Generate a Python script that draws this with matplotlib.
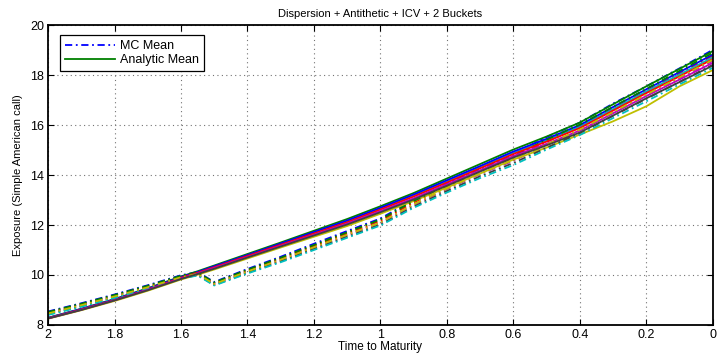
import matplotlib
matplotlib.use('Agg')
import matplotlib.pyplot as plt

plt.rcParams['font.family'] = ['Liberation Sans', 'DejaVu Sans']

# time to maturity grid (years)
t = [2.0, 1.9, 1.8, 1.7, 1.6, 1.55, 1.5, 1.4, 1.3, 1.2, 1.1, 1.0,
     0.9, 0.8, 0.7, 0.6, 0.5, 0.4, 0.3, 0.2, 0.1, 0.0]

# MC mean exposure per run (dash-dot lines)
mc_blue = [8.54, 8.87, 9.22, 9.59, 9.99, 10.12, 9.72, 10.24, 10.73, 11.25, 11.76, 12.26,
           13.01, 13.66, 14.28, 14.84, 15.52, 16.10, 16.86, 17.55, 18.27, 19.01]
mc_red = [8.49, 8.82, 9.17, 9.54, 9.94, 10.07, 9.67, 10.18, 10.66, 11.16, 11.66, 12.17,
          12.90, 13.54, 14.15, 14.69, 15.33, 15.93, 16.64, 17.35, 18.06, 18.77]
mc_magenta = [8.45, 8.78, 9.13, 9.50, 9.90, 10.03, 9.63, 10.13, 10.60, 11.09, 11.59, 12.09,
              12.81, 13.44, 14.04, 14.57, 15.20, 15.79, 16.49, 17.18, 17.88, 18.57]
mc_gray = [8.42, 8.75, 9.10, 9.47, 9.87, 10.00, 9.60, 10.09, 10.55, 11.04, 11.53, 12.02,
           12.74, 13.36, 13.95, 14.48, 15.09, 15.68, 16.37, 17.05, 17.73, 18.41]
mc_green = [8.52, 8.85, 9.20, 9.57, 9.97, 10.10, 9.70, 10.21, 10.69, 11.20, 11.71, 12.22,
            12.96, 13.60, 14.21, 14.76, 15.41, 16.02, 16.73, 17.45, 18.17, 18.89]
mc_cyan = [8.40, 8.73, 9.08, 9.45, 9.85, 9.98, 9.58, 10.06, 10.51, 11.00, 11.49, 11.98,
           12.69, 13.30, 13.88, 14.40, 15.02, 15.60, 16.28, 16.95, 17.63, 18.29]
mc_yellow = [8.46, 8.79, 9.14, 9.51, 9.91, 10.04, 9.64, 10.14, 10.61, 11.11, 11.61, 12.10,
             12.83, 13.46, 14.06, 14.60, 15.22, 15.82, 16.52, 17.22, 17.91, 18.61]

# analytic mean exposure per run (solid lines)
an_green = [8.29, 8.65, 9.04, 9.47, 9.94, 10.15, 10.38, 10.84, 11.30, 11.77, 12.24, 12.75,
            13.28, 13.86, 14.44, 15.02, 15.54, 16.10, 16.83, 17.55, 18.25, 18.96]
an_cyan = [8.28, 8.63, 9.01, 9.44, 9.90, 10.10, 10.32, 10.78, 11.23, 11.69, 12.14, 12.65,
           13.17, 13.73, 14.31, 14.88, 15.39, 15.93, 16.63, 17.34, 18.02, 18.71]
an_yellow = [8.25, 8.59, 8.96, 9.37, 9.82, 10.01, 10.22, 10.66, 11.10, 11.53, 11.96, 12.45,
             12.96, 13.50, 14.06, 14.62, 15.10, 15.62, 16.15, 16.75, 17.55, 18.20]
an_blue = [8.28, 8.64, 9.02, 9.45, 9.92, 10.12, 10.35, 10.80, 11.26, 11.72, 12.18, 12.69,
           13.22, 13.79, 14.36, 14.94, 15.45, 16.00, 16.72, 17.43, 18.12, 18.82]
an_red = [8.27, 8.62, 9.00, 9.42, 9.89, 10.09, 10.31, 10.76, 11.21, 11.66, 12.11, 12.62,
          13.14, 13.70, 14.27, 14.84, 15.34, 15.88, 16.58, 17.28, 17.95, 18.64]
an_magenta = [8.26, 8.61, 8.99, 9.41, 9.86, 10.06, 10.28, 10.72, 11.17, 11.61, 12.06, 12.56,
              13.07, 13.63, 14.19, 14.76, 15.25, 15.78, 16.47, 17.16, 17.82, 18.49]
an_gray = [8.26, 8.60, 8.98, 9.39, 9.84, 10.04, 10.25, 10.70, 11.14, 11.58, 12.02, 12.51,
           13.02, 13.57, 14.14, 14.70, 15.19, 15.70, 16.38, 17.07, 17.72, 18.38]

# old matlab colour order
BLUE, GREEN, RED = (0, 0, 1), (0, 0.5, 0), (1, 0, 0)
CYAN, MAGENTA, YELLOW, GRAY = (0, 0.75, 0.75), (0.75, 0, 0.75), (0.75, 0.75, 0), (0.25, 0.25, 0.25)

runs = [
    (mc_blue, BLUE, an_green, GREEN),
    (mc_red, RED, an_cyan, CYAN),
    (mc_magenta, MAGENTA, an_yellow, YELLOW),
    (mc_gray, GRAY, an_blue, BLUE),
    (mc_green, GREEN, an_red, RED),
    (mc_cyan, CYAN, an_magenta, MAGENTA),
    (mc_yellow, YELLOW, an_gray, GRAY),
]

fig = plt.figure(figsize=(7.17, 3.54), dpi=100)
ax = fig.add_axes([0.067, 0.082, 0.927, 0.847])

handles = []
for mc, mc_col, an, an_col in runs:
    h1, = ax.plot(t, mc, '-.', color=mc_col, lw=1.3, dashes=(4, 2, 1, 2))
    h2, = ax.plot(t, an, '-', color=an_col, lw=1.3)
    handles.append((h1, h2))

ax.set_xlim(2, 0)
ax.set_ylim(8, 20)
ax.set_xticks([2, 1.8, 1.6, 1.4, 1.2, 1, 0.8, 0.6, 0.4, 0.2, 0])
ax.set_xticklabels(['2', '1.8', '1.6', '1.4', '1.2', '1', '0.8', '0.6', '0.4', '0.2', '0'])
ax.set_yticks([8, 10, 12, 14, 16, 18, 20])
ax.tick_params(direction='in', top=True, right=True, labelsize=9, length=4, width=0.8, pad=3)
ax.grid(True, linestyle=(0, (1, 3)), color='0.45', linewidth=0.8)
for sp in ax.spines.values():
    sp.set_linewidth(1.3)

ax.set_title('Dispersion + Antithetic + ICV + 2 Buckets', fontsize=8, pad=6)
ax.set_xlabel('Time to Maturity', fontsize=8.5, labelpad=0)
ax.set_ylabel('Exposure (Simple American call)', fontsize=8, labelpad=5)

leg = ax.legend(handles[0], ['MC Mean', 'Analytic Mean'], loc='upper left',
                bbox_to_anchor=(0.018, 0.967), borderaxespad=0, fontsize=9,
                fancybox=False, framealpha=1, edgecolor='black',
                handlelength=4.0, borderpad=0.4, labelspacing=0.15, handletextpad=0.4)
leg.get_frame().set_linewidth(0.9)

fig.savefig('out.png', dpi=100)
